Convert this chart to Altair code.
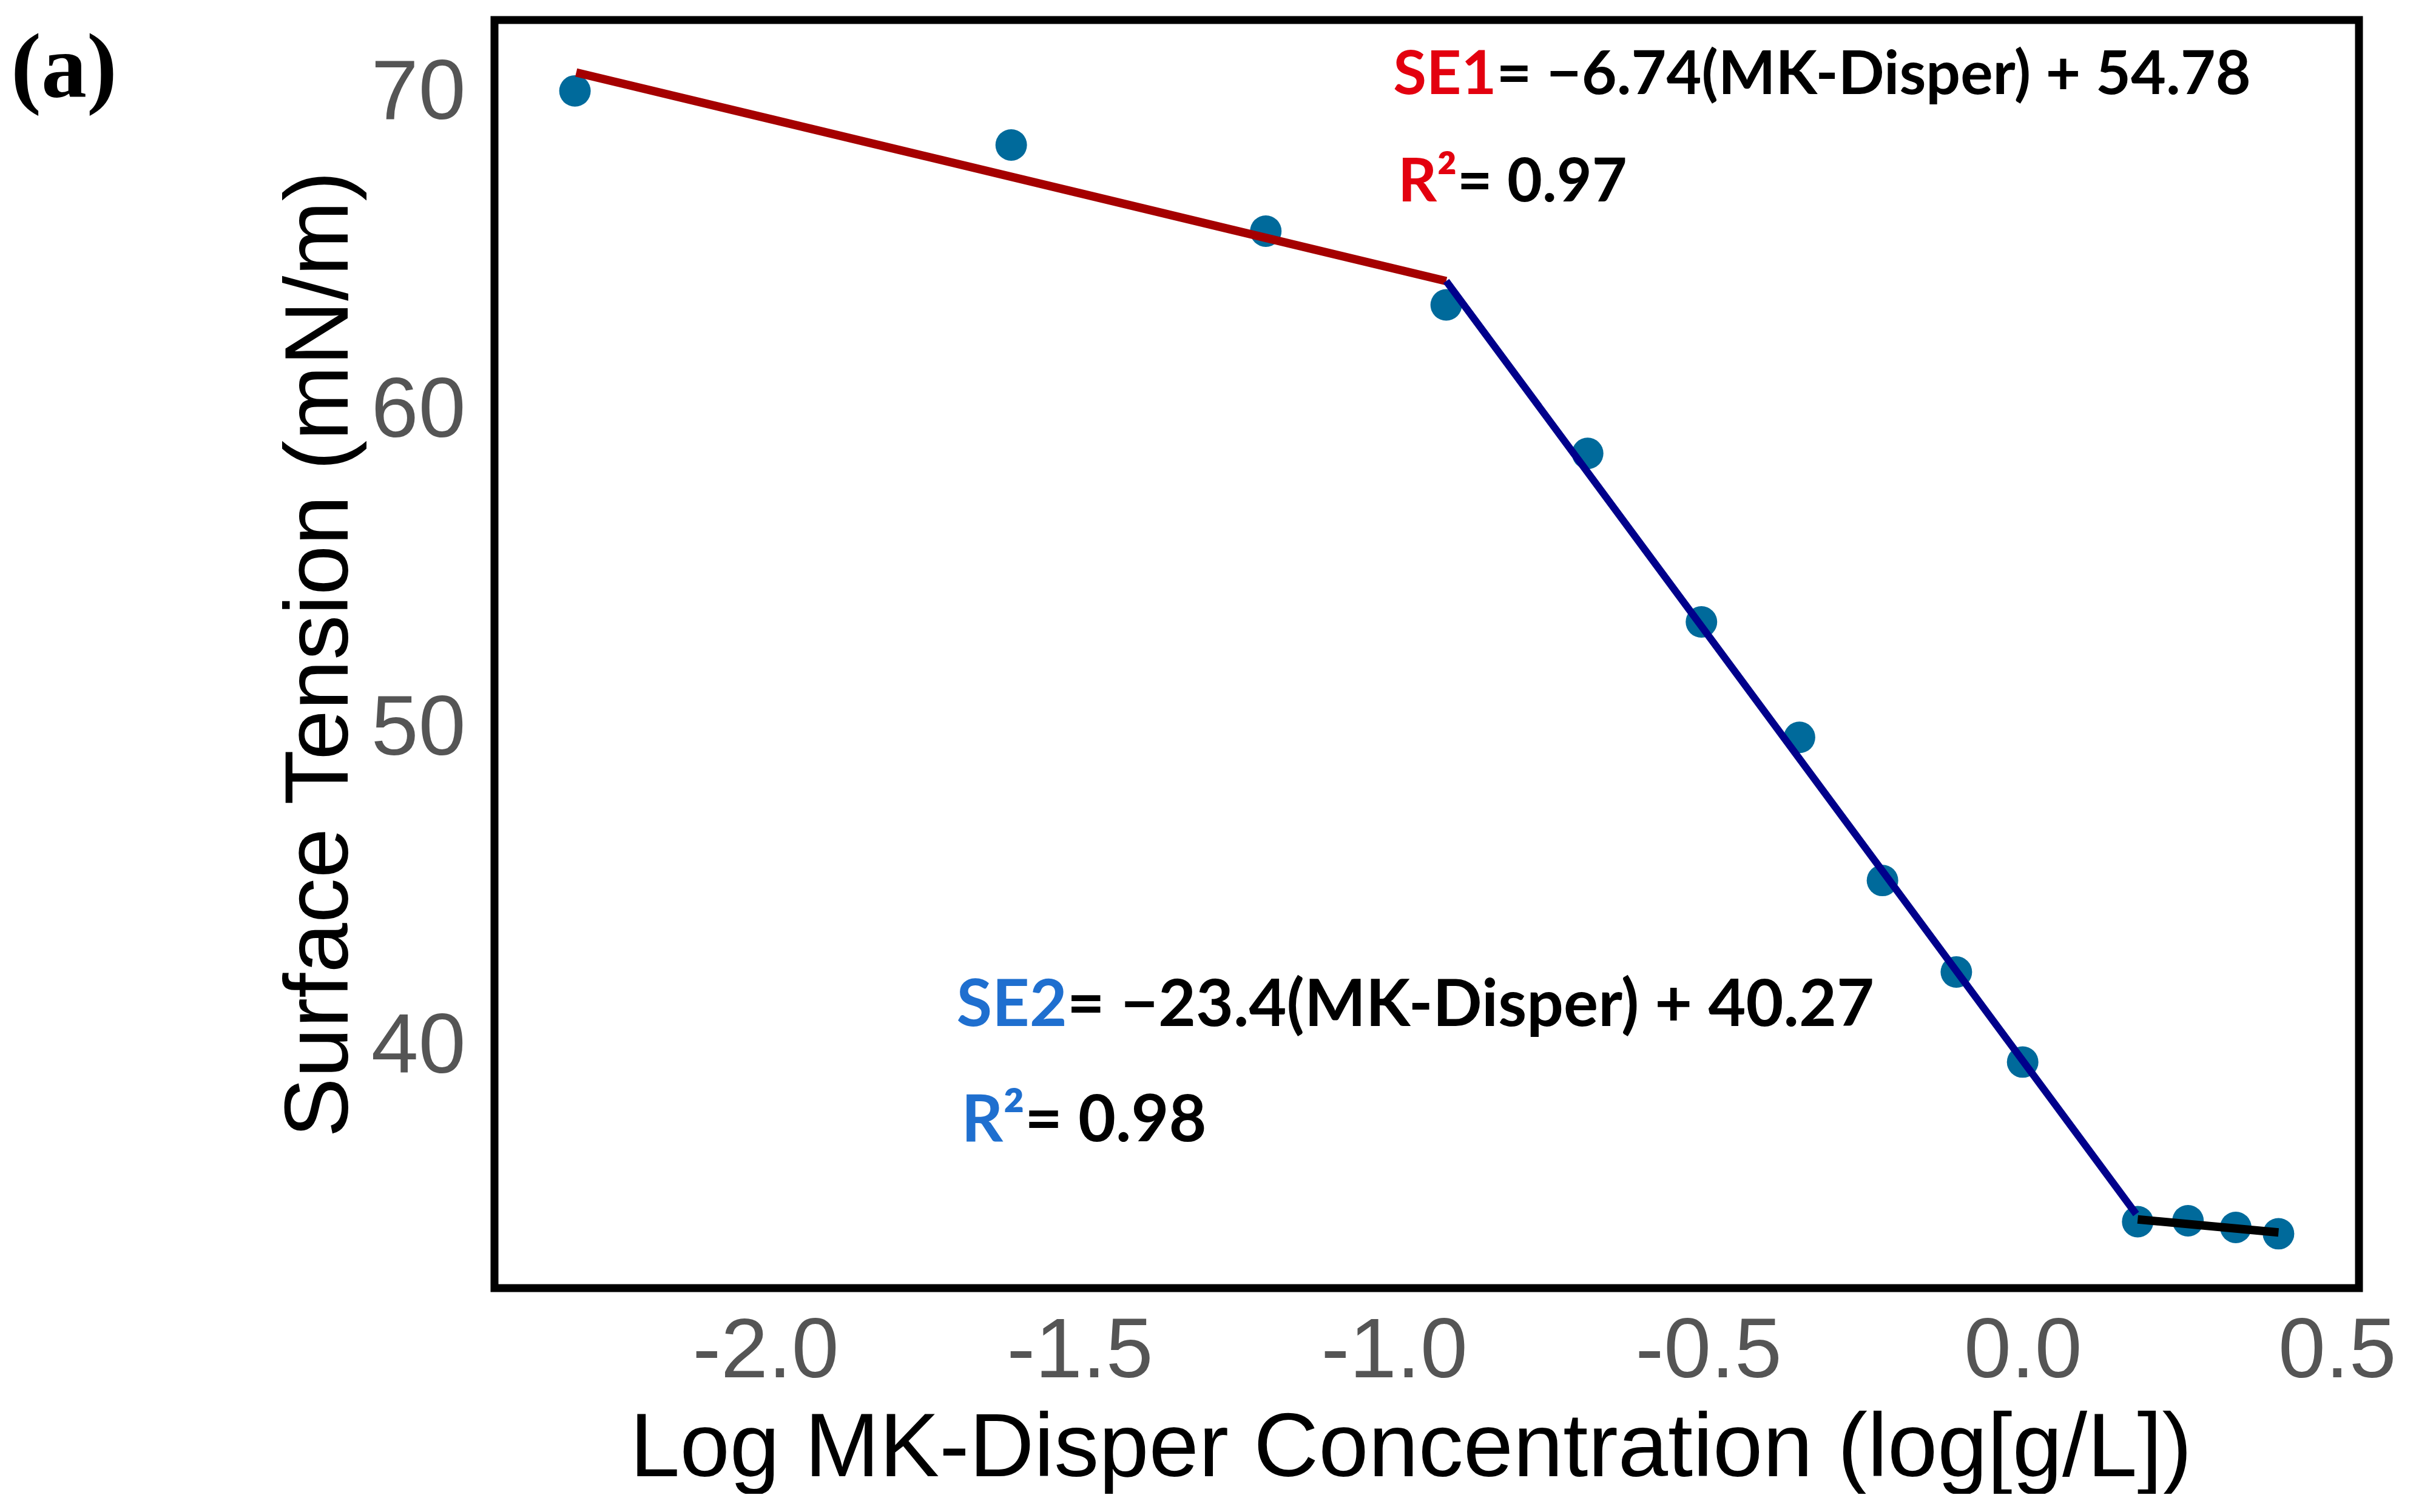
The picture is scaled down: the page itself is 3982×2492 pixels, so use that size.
import altair as alt
import pandas as pd

# measured data points
log_conc = [-2.303, -1.609, -1.204, -0.917, -0.692, -0.511, -0.355, -0.223, -0.1055, 0.0, 0.183, 0.263, 0.339, 0.407]
surface_tension = [69.96, 68.26, 65.55, 63.23, 58.56, 53.26, 49.63, 45.13, 42.25, 39.42, 34.40, 34.43, 34.22, 34.02]

# fitted segments (endpoints)
seg1_x = [-2.301, -0.917]
seg1_y = [70.54, 63.98]
seg2_x = [-0.917, 0.1805]
seg2_y = [63.98, 34.64]
seg3_x = [0.183, 0.407]
seg3_y = [34.47, 34.06]

x_ticks = [-2.0, -1.5, -1.0, -0.5, 0.0, 0.5]
y_ticks = [40, 50, 60, 70]

pts = pd.DataFrame({"x": log_conc, "y": surface_tension})

xs = alt.Scale(domain=[-2.431, 0.535], nice=False, zero=False)
ys = alt.Scale(domain=[32.31, 72.19], nice=False, zero=False)

X = alt.X("x:Q", scale=xs, title="Log MK-Disper Concentration (log[g/L])",
          axis=alt.Axis(values=x_ticks, labelExpr="replace(format(datum.value, '.1f'), '−', '-')",
                        labelPadding=35, titlePadding=18, labelFlush=False, labelLimit=0,
                        titleX=1510))
Y = alt.Y("y:Q", scale=ys, title="Surface Tension (mN/m)",
          axis=alt.Axis(values=y_ticks, labelPadding=48, titlePadding=12, labelOffset=6, labelLimit=0))

points = alt.Chart(pts).mark_circle(size=2700, opacity=1, color="#006a9b").encode(x=X, y=Y)


def seg(xv, yv, color, w):
    d = pd.DataFrame({"x": xv, "y": yv})
    return alt.Chart(d).mark_line(color=color, strokeWidth=w, strokeCap="butt").encode(
        x=alt.X("x:Q", scale=xs), y=alt.Y("y:Q", scale=ys))


l1 = seg(seg1_x, seg1_y, "#a50000", 14)
l2 = seg(seg2_x, seg2_y, "#00008b", 12)
l3 = seg(seg3_x, seg3_y, "#000000", 14)

ann_font = "Lato"


def txt(xv, yv, s, color, size, align):
    d = pd.DataFrame({"x": [xv], "y": [yv], "t": [s]})
    return alt.Chart(d).mark_text(align=align, baseline="alphabetic", font=ann_font,
                                  fontWeight="bold", fontSize=size, color=color).encode(
        x=alt.X("x:Q", scale=xs), y=alt.Y("y:Q", scale=ys), text="t:N")


red_txt = "#e3000f"
blue_txt = "#1f6fcf"
texts = [
    txt(-0.837, 69.87, "SE1", red_txt, 100, "right"),
    txt(-0.837, 69.87, "= −6.74(MK-Disper) + 54.78", "black", 100, "left"),
    txt(-0.8995, 66.49, "R²", red_txt, 100, "right"),
    txt(-0.8995, 66.49, "= 0.97", "black", 100, "left"),
    txt(-1.52, 40.56, "SE2", blue_txt, 107, "right"),
    txt(-1.52, 40.56, "= −23.4(MK-Disper) + 40.27", "black", 107, "left"),
    txt(-1.5875, 36.92, "R²", blue_txt, 107, "right"),
    txt(-1.5875, 36.92, "= 0.98", "black", 107, "left"),
]

panel = alt.Chart(pd.DataFrame({"t": ["(a)"]})).mark_text(
    align="left", baseline="alphabetic", font="Liberation Serif", fontWeight="bold",
    fontSize=150, color="black").encode(x=alt.value(-797), y=alt.value(126), text="t:N")

chart = alt.layer(points, l1, l2, l3, *texts, panel).properties(
    width=3073, height=2090,
    padding={"left": 10, "top": 25, "right": 0, "bottom": 0},
).configure_view(stroke="black", strokeWidth=13).configure_axis(
    grid=False, ticks=False, domain=False,
    labelColor="#555555", labelFont="Liberation Sans", labelFontSize=140,
    titleColor="black", titleFont="Liberation Sans", titleFontSize=148, titleFontWeight="normal",
)

chart.save("out.html", embed_options={"renderer": "svg", "actions": False})
